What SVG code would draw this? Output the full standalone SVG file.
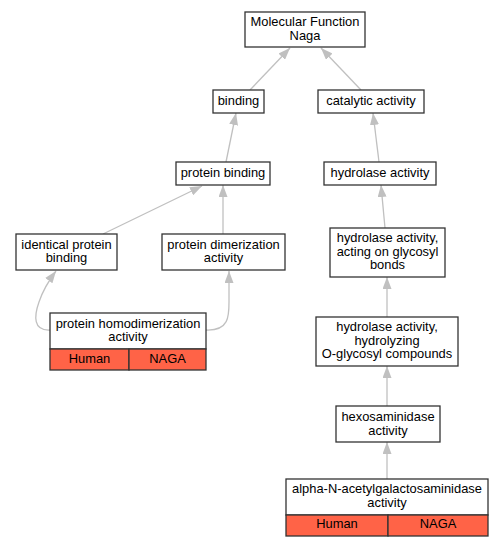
<svg xmlns="http://www.w3.org/2000/svg" width="503" height="547" viewBox="0 0 503 547">
<style>
.n{fill:#fff;stroke:#333;stroke-width:1.3}
.r{fill:#ff6347;stroke:#333;stroke-width:1.3}
text{font-family:"Liberation Sans",Arial,sans-serif;font-size:12.9px;fill:#000;text-anchor:middle}
.e{fill:none;stroke:#c0c0c0;stroke-width:1.3}
</style>
<defs>
<marker id="a" viewBox="0 0 12 9" refX="12" refY="4.5" markerWidth="12" markerHeight="9" markerUnits="userSpaceOnUse" orient="auto">
<path d="M0,0L12,4.5L0,9Z" fill="#c0c0c0"/>
</marker>
</defs>
<rect width="503" height="547" fill="#fff"/>
<g id="edges">
<path class="e" marker-end="url(#a)" d="M250,90L290,48"/>
<path class="e" marker-end="url(#a)" d="M361,90L321,48"/>
<path class="e" marker-end="url(#a)" d="M226,162L236,113"/>
<path class="e" marker-end="url(#a)" d="M379,162L373,113"/>
<path class="e" marker-end="url(#a)" d="M103,234L202,186"/>
<path class="e" marker-end="url(#a)" d="M223,234L223,185"/>
<path class="e" marker-end="url(#a)" d="M385,228L381,185"/>
<path class="e" marker-end="url(#a)" d="M50,330C33,331 34,316 39,302C43,290 50,279 56,271"/>
<path class="e" marker-end="url(#a)" d="M206,330C230,331 229,315 229,300L229,271"/>
<path class="e" marker-end="url(#a)" d="M387,317L387,277"/>
<path class="e" marker-end="url(#a)" d="M387,406L387,366"/>
<path class="e" marker-end="url(#a)" d="M387,479L387,442"/>
</g>
<g id="mf">
<rect class="n" x="245" y="12" width="120" height="35"/>
<text x="305" y="26">Molecular Function</text>
<text x="305" y="39.5">Naga</text>
</g>
<g id="binding">
<rect class="n" x="213" y="90" width="51" height="23"/>
<text x="238.5" y="105">binding</text>
</g>
<g id="catalytic">
<rect class="n" x="318" y="90" width="106" height="23"/>
<text x="371" y="105">catalytic activity</text>
</g>
<g id="proteinbinding">
<rect class="n" x="176" y="162" width="94" height="23"/>
<text x="223" y="177">protein binding</text>
</g>
<g id="hydrolase">
<rect class="n" x="324" y="162" width="112" height="23"/>
<text x="380" y="177">hydrolase activity</text>
</g>
<g id="identical">
<rect class="n" x="16" y="234" width="101" height="36"/>
<text x="66.5" y="248.5">identical protein</text>
<text x="66.5" y="262">binding</text>
</g>
<g id="dimerization">
<rect class="n" x="162" y="234" width="123" height="36"/>
<text x="223.5" y="248.5">protein dimerization</text>
<text x="223.5" y="262">activity</text>
</g>
<g id="glycosyl">
<rect class="n" x="330" y="228" width="115" height="49"/>
<text x="387.5" y="242">hydrolase activity,</text>
<text x="387.5" y="255.5">acting on glycosyl</text>
<text x="387.5" y="269">bonds</text>
</g>
<g id="homodimerization">
<rect class="n" x="50" y="313" width="156" height="36"/>
<rect class="r" x="50" y="349" width="79" height="21"/>
<rect class="r" x="129" y="349" width="77" height="21"/>
<text x="128" y="327.5">protein homodimerization</text>
<text x="128" y="341">activity</text>
<text x="89.5" y="363">Human</text>
<text x="167.5" y="363">NAGA</text>
</g>
<g id="oglycosyl">
<rect class="n" x="316" y="317" width="142" height="49"/>
<text x="387" y="331">hydrolase activity,</text>
<text x="387" y="344.5">hydrolyzing</text>
<text x="387" y="358">O-glycosyl compounds</text>
</g>
<g id="hexosaminidase">
<rect class="n" x="336" y="406" width="104" height="36"/>
<text x="388" y="421">hexosaminidase</text>
<text x="388" y="434.5">activity</text>
</g>
<g id="alphaN">
<rect class="n" x="286" y="479" width="202" height="36"/>
<rect class="r" x="286" y="515" width="102" height="21"/>
<rect class="r" x="388" y="515" width="100" height="21"/>
<text x="387" y="493">alpha-N-acetylgalactosaminidase</text>
<text x="387" y="506.5">activity</text>
<text x="337" y="528">Human</text>
<text x="438" y="528">NAGA</text>
</g>
</svg>
